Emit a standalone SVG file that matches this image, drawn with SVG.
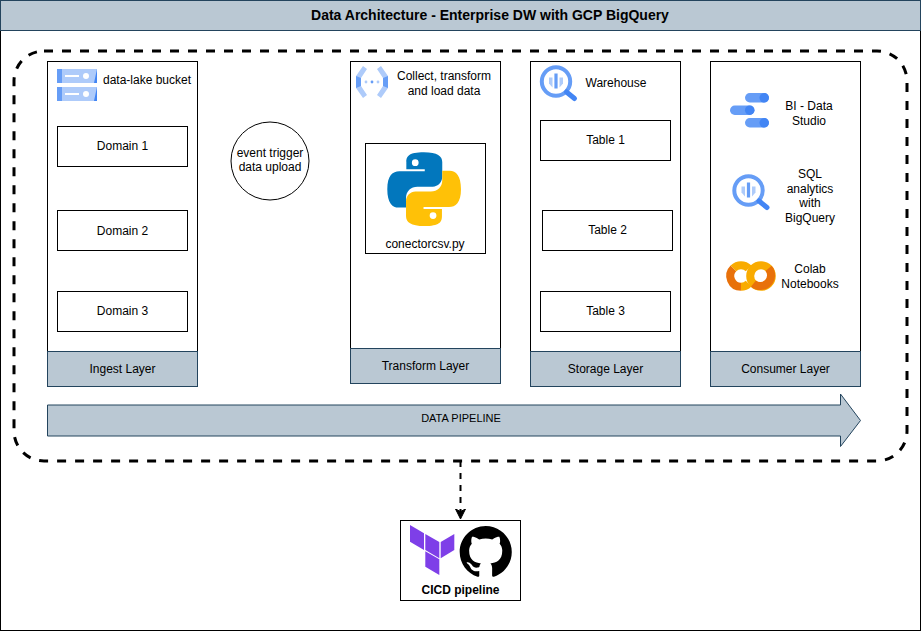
<svg xmlns="http://www.w3.org/2000/svg" width="921" height="631" viewBox="0 0 921 631">
<style>
text{font-family:"Liberation Sans",Arial,sans-serif;font-size:12px;fill:#000;text-anchor:middle}
.b{fill:#fff;stroke:#000;stroke-width:1}
.l{fill:#bac8d3;stroke:#23445d;stroke-width:1}
.side{fill:#669df6}
.lt{fill:#aecbfa}
.ring{fill:none;stroke-width:8}
</style>
<defs>
<marker id="ah" markerWidth="12" markerHeight="12" refX="10" refY="6" orient="auto" markerUnits="userSpaceOnUse"><path d="M0 1L10 6L0 11L2.5 6Z" fill="#000" stroke="#000"/></marker>
<g id="bq">
<circle r="14.2" fill="#fff" stroke="#669df6" stroke-width="4"/>
<path d="M-7 -4V2L-3.5 6V-4Z" class="lt"/>
<path d="M7 -4V2L3.5 6V-4Z" class="lt"/>
<rect x="-1.6" y="-8" width="3.2" height="15" fill="#669df6"/>
<path d="M10.5 10.5L18.5 17" stroke="#4285f4" stroke-width="5" stroke-linecap="round"/>
</g>
<g id="srv">
<rect width="40" height="14" class="lt"/>
<rect width="5" height="14" class="side"/>
<path d="M40 0V14H37L40 0" fill="#4285f4"/>
<rect x="8" y="6" width="14" height="2" fill="#fff"/>
<circle cx="29" cy="7" r="3" fill="#fff"/>
</g>
<path id="py" d="M11.9 0C7 0 6.2 1.3 6.2 3.2V5.5H12.2V6.2H3.9C1.8 6.2 0 7.6 0 12C0 16.4 1.6 18 3.7 18H6.1V14.8C6.1 12.7 7.7 11.2 9.8 11.2H14.8C16.5 11.2 17.9 9.8 17.9 8V3.2C17.9 1.3 16.4 0 11.9 0ZM9.1 2.3A1.1 1.1 0 1 1 9.1 4.5A1.1 1.1 0 1 1 9.1 2.3Z" fill-rule="evenodd"/>
</defs>
<rect id="page" x="0.5" y="0.5" width="920" height="630" fill="#fff" stroke="#000"/>
<g id="title"><rect class="l" x="0.5" y="0.5" width="920" height="30"/><text x="490" y="20" style="font-weight:700;font-size:14px">Data Architecture - Enterprise DW with GCP BigQuery</text></g>
<g id="connectors">
<rect x="14" y="51" width="893" height="410" rx="30" ry="30" fill="none" stroke="#000" stroke-width="3" stroke-dasharray="9 9"/>
<path d="M460.5 461V519" fill="none" stroke="#000" stroke-width="2" stroke-dasharray="6 6" marker-end="url(#ah)"/>
</g>
<g id="ingest">
<rect class="b" x="47.5" y="61.5" width="150" height="290"/>
<rect class="l" x="47.5" y="351.5" width="150" height="35"/>
<text x="122.5" y="373">Ingest Layer</text>
<use href="#srv" x="57" y="69"/><use href="#srv" x="57" y="87"/>
<text x="147" y="84">data-lake bucket</text>
</g>
<g id="domain1"><rect class="b" x="57.5" y="126.5" width="130" height="40"/><text x="122.5" y="150">Domain 1</text></g>
<g id="domain2"><rect class="b" x="57.5" y="210.5" width="130" height="40"/><text x="122.5" y="235">Domain 2</text></g>
<g id="domain3"><rect class="b" x="57.5" y="291.5" width="130" height="40"/><text x="122.5" y="315">Domain 3</text></g>
<g id="trigger"><circle class="b" cx="270" cy="161" r="39"/><text x="270" y="157">event trigger</text><text x="270" y="171">data upload</text></g>
<g id="transform">
<rect class="b" x="350.5" y="61.5" width="150" height="287"/>
<rect class="l" x="350.5" y="348.5" width="150" height="35"/>
<text x="425.5" y="370">Transform Layer</text>
<path d="M363 66L356 76V88L363 98L367 95L361 86V78L367 69Z" class="lt"/>
<path d="M356 76L361 78V86L356 88Z" class="side"/>
<path d="M381 66L388 76V88L381 98L377 95L383 86V78L377 69Z" class="lt"/>
<path d="M388 76L383 78V86L388 88Z" class="side"/>
<circle cx="366" cy="82" r="1.4" class="lt"/><circle cx="372" cy="82" r="1.4" class="side"/><circle cx="378" cy="82" r="1.4" class="lt"/>
<text x="444" y="80">Collect, transform</text><text x="444" y="95">and load data</text>
</g>
<g id="connector-script">
<rect class="b" x="365.5" y="143.5" width="120" height="110"/>
<g transform="translate(387.3 152.3) scale(3.07)"><use href="#py" fill="#0277bd"/><use href="#py" fill="#ffc107" transform="rotate(180 12 12)"/></g>
<text x="425" y="248">conectorcsv.py</text>
</g>
<g id="storage">
<rect class="b" x="530.5" y="61.5" width="150" height="290"/>
<rect class="l" x="530.5" y="351.5" width="150" height="35"/>
<text x="605.5" y="373">Storage Layer</text>
<use href="#bq" x="556" y="81.5"/>
<text x="616" y="87">Warehouse</text>
</g>
<g id="table1"><rect class="b" x="540.5" y="120.5" width="130" height="40"/><text x="605.5" y="144">Table 1</text></g>
<g id="table2"><rect class="b" x="542.5" y="210.5" width="130" height="40"/><text x="607.5" y="234">Table 2</text></g>
<g id="table3"><rect class="b" x="540.5" y="291.5" width="130" height="40"/><text x="605.5" y="315">Table 3</text></g>
<g id="consumer">
<rect class="b" x="710.5" y="61.5" width="150" height="290"/>
<rect class="l" x="710.5" y="351.5" width="150" height="35"/>
<text x="785.5" y="373">Consumer Layer</text>
<rect x="745" y="93" width="24" height="9.5" rx="4.75" class="side"/><circle cx="764.2" cy="97.8" r="4.75" fill="#4285f4"/>
<rect x="730" y="105.5" width="24.5" height="9.5" rx="4.75" class="side"/><circle cx="749.7" cy="110.2" r="4.75" fill="#4285f4"/>
<rect x="745" y="118" width="24" height="9.5" rx="4.75" class="side"/><circle cx="764.2" cy="122.8" r="4.75" fill="#4285f4"/>
<text x="809" y="110">BI - Data</text><text x="809" y="125">Studio</text>
<use href="#bq" x="748.5" y="190.5"/>
<text x="810" y="178">SQL</text><text x="810" y="193">analytics</text><text x="810" y="207">with</text><text x="810" y="222">BigQuery</text>
<circle class="ring" cx="761" cy="276" r="10.8" stroke="#f9ab00"/>
<path class="ring" d="M768.6 268.4A10.8 10.8 0 0 1 753.4 283.6" stroke="#e8710a"/>
<path class="ring" d="M733.4 268.4A10.8 10.8 0 0 0 741 286.8" stroke="#e8710a"/>
<path class="ring" d="M733.4 268.4A10.8 10.8 0 0 1 748.6 268.4" stroke="#f9ab00"/>
<path class="ring" d="M741 286.8A10.8 10.8 0 0 0 748.6 283.6" stroke="#f9ab00"/>
<text x="810" y="273">Colab</text><text x="810" y="288">Notebooks</text>
</g>
<g id="data-pipeline">
<path class="l" d="M47.5 405H840.5V394L860.5 420.5L840.5 446.5V436H47.5Z"/>
<text x="461" y="422" style="font-size:11px">DATA PIPELINE</text>
</g>
<g id="cicd">
<rect class="b" x="400.5" y="520.5" width="120" height="80"/>
<g fill="#7e3fe8">
<path d="M410 525L424 533.3V550L410 541.7Z"/>
<path d="M425.3 534L439.3 542V558.3L425.3 550Z"/>
<path d="M440.7 542L454.3 534V550L440.7 558.3Z"/>
<path d="M425.3 551.3L439.3 559.3V575L425.3 566.7Z"/>
</g>
<path transform="translate(459.7 525.3) scale(2.17)" d="M12 .297c-6.63 0-12 5.373-12 12 0 5.303 3.438 9.8 8.205 11.385.6.113.82-.258.82-.577 0-.285-.01-1.04-.015-2.04-3.338.724-4.042-1.61-4.042-1.61C4.422 18.07 3.633 17.7 3.633 17.7c-1.087-.744.084-.729.084-.729 1.205.084 1.838 1.236 1.838 1.236 1.07 1.835 2.809 1.305 3.495.998.108-.776.417-1.305.76-1.605-2.665-.3-5.466-1.332-5.466-5.93 0-1.31.465-2.38 1.235-3.22-.135-.303-.54-1.523.105-3.176 0 0 1.005-.322 3.3 1.23.96-.267 1.98-.399 3-.405 1.02.006 2.04.138 3 .405 2.28-1.552 3.285-1.23 3.285-1.23.645 1.653.24 2.873.12 3.176.765.84 1.23 1.91 1.23 3.22 0 4.61-2.805 5.625-5.475 5.92.42.36.81 1.096.81 2.22 0 1.606-.015 2.896-.015 3.286 0 .315.21.69.825.57C20.565 22.092 24 17.592 24 12.297c0-6.627-5.373-12-12-12" fill="#000"/>
<text x="460.5" y="594" style="font-weight:700">CICD pipeline</text>
</g>
</svg>
